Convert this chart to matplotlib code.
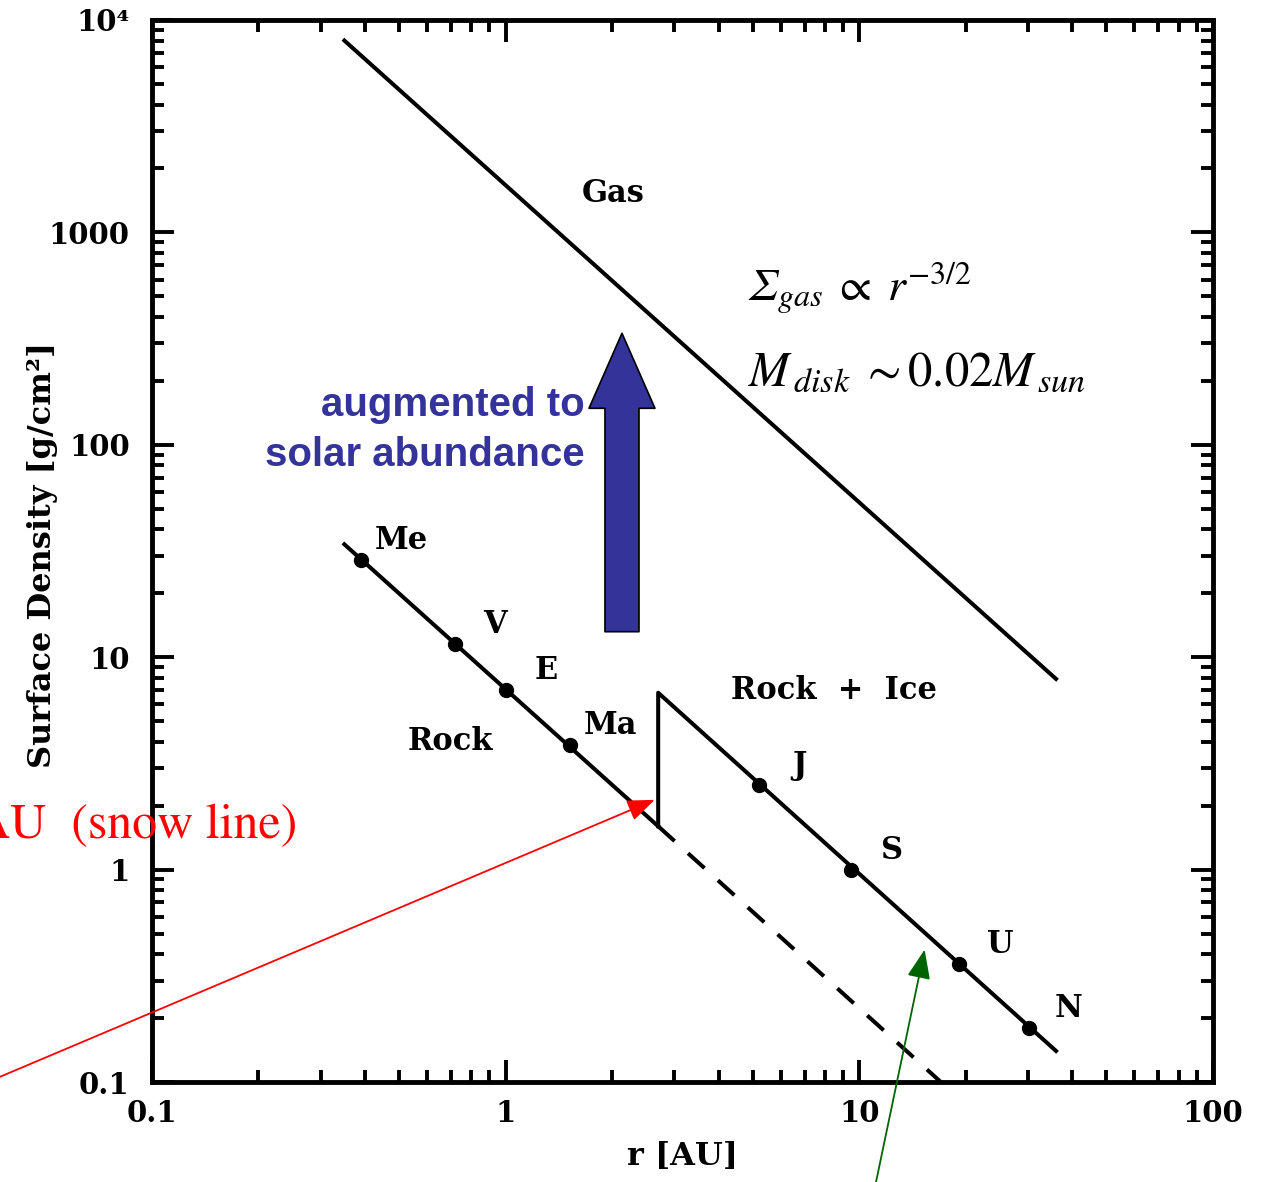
import matplotlib
matplotlib.use("Agg")
import matplotlib.pyplot as plt
from matplotlib.ticker import LogLocator, FixedLocator, NullFormatter

# minimum mass solar nebula
gas_r = [0.35, 36.0]
gas_sigma = [8000.0, 7.9]

rock_r = [0.35, 2.7]
rock_sigma = [34.0, 1.6]

ice_r = [2.7, 2.7, 36.0]
ice_sigma = [1.6, 6.8, 0.14]

dash_r = [2.7, 17.0]
dash_sigma = [1.6, 0.1]

planets = ["Me", "V", "E", "Ma", "J", "S", "U", "N"]
planet_r = [0.39, 0.72, 1.0, 1.52, 5.2, 9.5, 19.2, 30.1]
planet_sigma = [28.7, 11.5, 7.0, 3.86, 2.5, 1.0, 0.36, 0.18]

xticks = [0.1, 1, 10, 100]
xtick_labels = ["0.1", "1", "10", "100"]
yticks = [0.1, 1, 10, 100, 1000, 1e4]
ytick_labels = ["0.1", "1", "10", "100", "1000", "10\u2074"]

tick_font = dict(family="DejaVu Serif", weight="bold", size=21)
label_font = dict(family="DejaVu Serif", weight="bold", size=23)
note_font = dict(family="DejaVu Serif", weight="bold", size=22)
blue = "#333399"

# Times-like math; bf slot used for an italic capital Sigma
plt.rcParams["mathtext.fontset"] = "custom"
plt.rcParams["mathtext.rm"] = "STIXGeneral"
plt.rcParams["mathtext.it"] = "STIXGeneral:italic"
plt.rcParams["mathtext.bf"] = "STIXGeneral:italic"

fig = plt.figure(figsize=(12.61, 11.82), dpi=100)
ax = fig.add_axes([0.1205, 0.0846, 0.8414, 0.8985])
ax.set_xscale("log")
ax.set_yscale("log")
ax.set_xlim(0.1, 100)
ax.set_ylim(0.1, 1e4)

lw = 2.9
ax.plot(gas_r, gas_sigma, color="black", lw=lw)
ax.plot(rock_r, rock_sigma, color="black", lw=lw)
ax.plot(ice_r, ice_sigma, color="black", lw=lw)
ax.plot(dash_r, dash_sigma, color="black", lw=lw, dashes=(5.5, 4.5))
ax.plot(planet_r, planet_sigma, "o", color="black", ms=10)

for name, r, s in zip(planets, planet_r, planet_sigma):
    ax.annotate(name, (r, s), xytext=(29, 14), textcoords="offset points",
                ha="center", va="center", **note_font)

ax.text(2.01, 1530, "Gas", ha="center", va="center", **note_font)
ax.text(8.5, 7.0, "Rock  +  Ice", ha="center", va="center", **note_font)
ax.text(0.70, 4.0, "Rock", ha="center", va="center", **note_font)

# axes frame / ticks
for sp in ax.spines.values():
    sp.set_linewidth(3.5)
ax.tick_params(which="both", direction="in", top=True, right=True, width=2.8)
ax.tick_params(which="major", length=16, pad=12)
ax.tick_params(axis="y", which="major", pad=16)
ax.tick_params(which="minor", length=8.5)
ax.xaxis.set_major_locator(FixedLocator(xticks))
ax.yaxis.set_major_locator(FixedLocator(yticks))
ax.xaxis.set_minor_locator(LogLocator(base=10, subs=range(2, 10)))
ax.yaxis.set_minor_locator(LogLocator(base=10, subs=range(2, 10)))
ax.xaxis.set_minor_formatter(NullFormatter())
ax.yaxis.set_minor_formatter(NullFormatter())
ax.set_xticklabels(xtick_labels, **tick_font)
ax.set_yticklabels(ytick_labels, **tick_font)

ax.set_xlabel("r [AU]", **label_font)
ax.xaxis.set_label_coords(0.5, -0.056)
ax.set_ylabel("Surface Density [g/cm\u00b2]", **label_font)
ax.yaxis.set_label_coords(-0.089, 0.496)

# formulas
ax.text(0.5617, 0.736, r"$\mathbf{\Sigma}_{gas}\;\propto\; r^{-3/2}$", transform=ax.transAxes,
        fontsize=33, va="baseline", ha="left")
ax.text(0.5617, 0.656, r"$M_{\,disk}\;\sim 0.02M_{\,sun}$", transform=ax.transAxes,
        fontsize=35, va="baseline", ha="left")

# blue arrow and text
ax.annotate("", xy=(0.443, 0.705), xytext=(0.443, 0.424),
            xycoords="axes fraction", textcoords="axes fraction",
            arrowprops=dict(arrowstyle="simple,head_length=5.4,head_width=4.75,tail_width=2.45",
                            mutation_scale=10, fc=blue, ec="black", lw=1.2,
                            shrinkA=0, shrinkB=0))
ax.text(0.408, 0.614, "augmented to\nsolar abundance", transform=ax.transAxes,
        ha="right", va="center", multialignment="right", color=blue,
        family="Liberation Sans", weight="bold", fontsize=29, linespacing=1.4)

# snow line annotation
fig.text(0.2355, 0.301, "2.7 AU  (snow line)", color="red", ha="right", va="center",
         family="STIXGeneral", fontsize=36)
ax.annotate("", xy=(2.64, 2.13), xycoords="data",
            xytext=(0.0, 0.089), textcoords="figure fraction",
            arrowprops=dict(arrowstyle="-|>,head_length=1.4,head_width=0.55",
                            mutation_scale=12, color="red", lw=1.3,
                            shrinkA=0, shrinkB=0),
            annotation_clip=False)

# green arrow from below
ax.annotate("", xy=(15.3, 0.42), xycoords="data",
            xytext=(0.6947, 0.0), textcoords="figure fraction",
            arrowprops=dict(arrowstyle="-|>,head_length=1.5,head_width=0.6",
                            mutation_scale=12, color="#006400", lw=1.3,
                            shrinkA=0, shrinkB=0),
            annotation_clip=False)

fig.savefig("out.png", dpi=100)
